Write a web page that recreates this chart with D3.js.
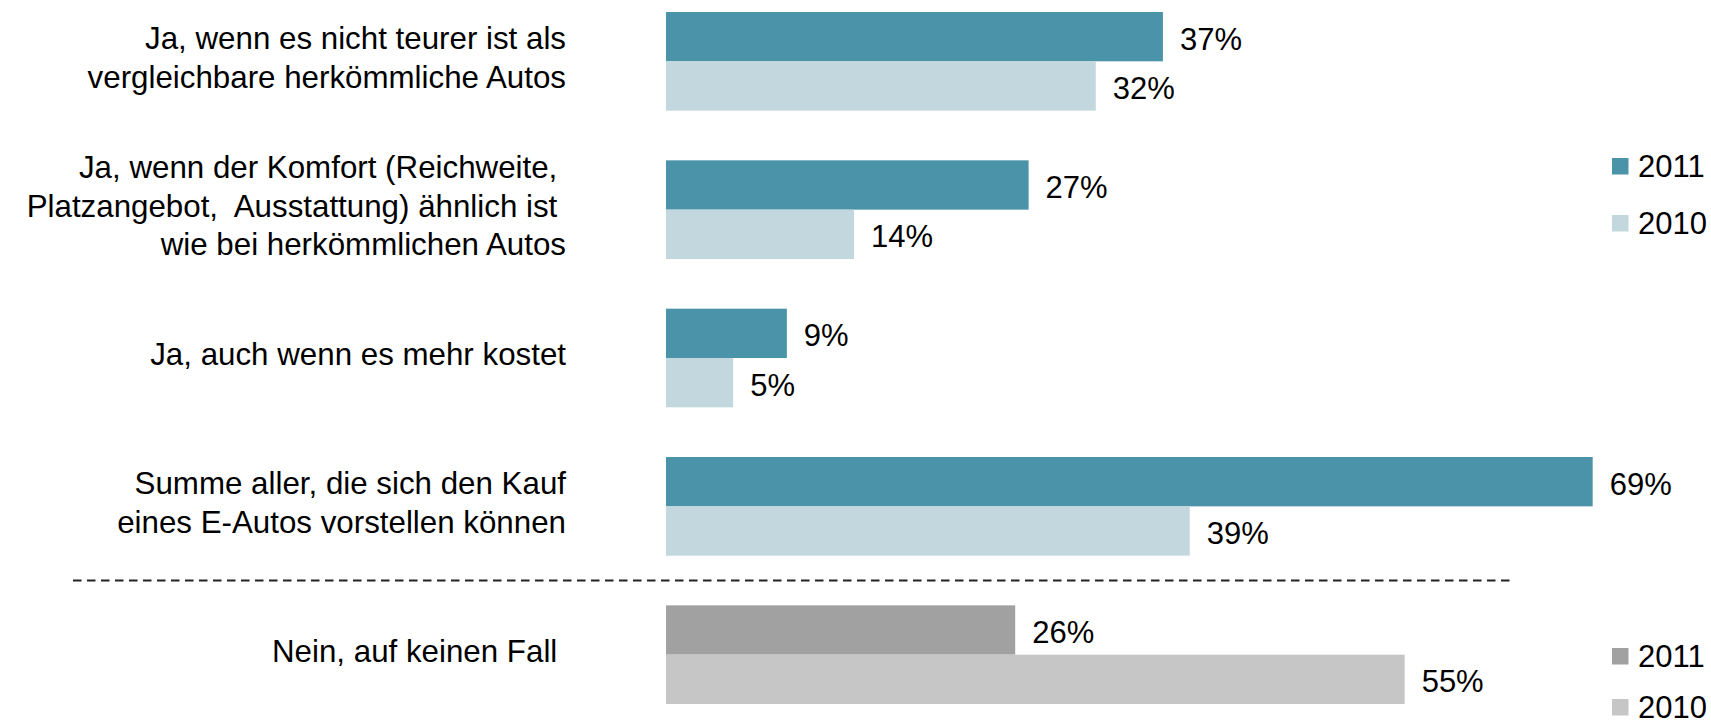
<!DOCTYPE html>
<html>
<head>
<meta charset="utf-8">
<script src="https://cdn.jsdelivr.net/npm/d3@7"></script>
<style>
  body { margin: 0; background: #fff; }
  svg { display: block; }
  text { font-family: "Liberation Sans", Arial, sans-serif; fill: #000; }
</style>
</head>
<body>
<div id="chart"></div>
<script>

// data
var categoryLines = [
  ["Ja, wenn es nicht teurer ist als", "vergleichbare herkömmliche Autos"],
  ["Ja, wenn der Komfort (Reichweite, ", "Platzangebot,  Ausstattung) ähnlich ist ", "wie bei herkömmlichen Autos"],
  ["Ja, auch wenn es mehr kostet"],
  ["Summe aller, die sich den Kauf", "eines E-Autos vorstellen können"],
  ["Nein, auf keinen Fall "]
];
var years = ["2011", "2010"];
var values2011 = [37, 27, 9, 69, 26];
var values2010 = [32, 14, 5, 39, 55];

var categories = categoryLines.map(function(l) { return l.join(" "); });

var width = 1711,
    height = 728;

var yesColors = {"2011": "#4a93a8", "2010": "#c3d7de"};
var noColors  = {"2011": "#a1a1a1", "2010": "#c6c6c6"};

var data = [];
for (var i = 0; i < categories.length; i++) {
  data.push({
    cat: categories[i],
    lines: categoryLines[i],
    no: i == categories.length - 1,
    values: [{year: "2011", value: values2011[i]}, {year: "2010", value: values2010[i]}]
  });
}

var svg = d3.select("#chart").append("svg")
    .attr("width", width)
    .attr("height", height);

var x = d3.scaleLinear().domain([0, 100]).range([666, 666 + 1343]);

var y = d3.scaleBand()
    .domain(categories)
    .range([12, 704])
    .paddingInner(0.335)
    .paddingOuter(0);

var yInner = d3.scaleBand().domain(years).range([0, y.bandwidth()]);

var catSize = 31.3,
    valSize = 31,
    lineH = 38.5;

var groups = svg.selectAll(".group")
    .data(data)
    .enter().append("g")
    .attr("class", "group")
    .attr("transform", function(d) { return "translate(0," + y(d.cat) + ")"; });

groups.selectAll("rect")
    .data(function(d) { return d.values.map(function(v) { return {year: v.year, value: v.value, no: d.no}; }); })
    .enter().append("rect")
    .attr("x", x(0))
    .attr("y", function(d) { return yInner(d.year); })
    .attr("width", function(d) { return x(d.value) - x(0); })
    .attr("height", yInner.bandwidth())
    .style("fill", function(d) { return d.no ? noColors[d.year] : yesColors[d.year]; });

// value labels
groups.selectAll(".val")
    .data(function(d) { return d.values; })
    .enter().append("text")
    .attr("class", "val")
    .attr("x", function(d) { return x(d.value) + 17; })
    .attr("y", function(d) { return yInner(d.year) + yInner.bandwidth() / 2 + valSize * 0.358 + 2; })
    .style("font-size", valSize + "px")
    .text(function(d) { return d.value + "%"; });

// category labels, right aligned, block centred on the band
groups.each(function(d) {
  var g = d3.select(this);
  var c = y.bandwidth() / 2 - 4;
  var n = d.lines.length;
  g.selectAll(".cat")
    .data(d.lines)
    .enter().append("text")
    .attr("class", "cat")
    .attr("x", 566)
    .attr("y", function(l, j) { return c + (j - (n - 1) / 2) * lineH + catSize * 0.358; })
    .attr("text-anchor", "end")
    .style("white-space", "pre")
    .style("font-size", catSize + "px")
    .text(function(l) { return l; });
});

// dashed separator between the yes and no groups
var sepY = y(categories[3]) + y.bandwidth() + (y.step() - y.bandwidth()) / 2;
svg.append("line")
    .attr("x1", 73)
    .attr("x2", 1511)
    .attr("y1", sepY)
    .attr("y2", sepY)
    .attr("stroke", "#222")
    .attr("stroke-width", 2)
    .attr("stroke-dasharray", "8.5,5.5");

function legend(rows, colors) {
  var lg = svg.append("g").attr("class", "legend");
  lg.selectAll("rect")
    .data(years)
    .enter().append("rect")
    .attr("x", 1612)
    .attr("y", function(d, j) { return rows[j] - 8; })
    .attr("width", 16.5)
    .attr("height", 16.5)
    .style("fill", function(d) { return colors[d]; });
  lg.selectAll("text")
    .data(years)
    .enter().append("text")
    .attr("x", 1638)
    .attr("y", function(d, j) { return rows[j] + valSize * 0.358; })
    .style("font-size", valSize + "px")
    .text(function(d) { return d; });
}

legend([166, 223], yesColors);
legend([656, 707], noColors);

</script>
</body>
</html>
